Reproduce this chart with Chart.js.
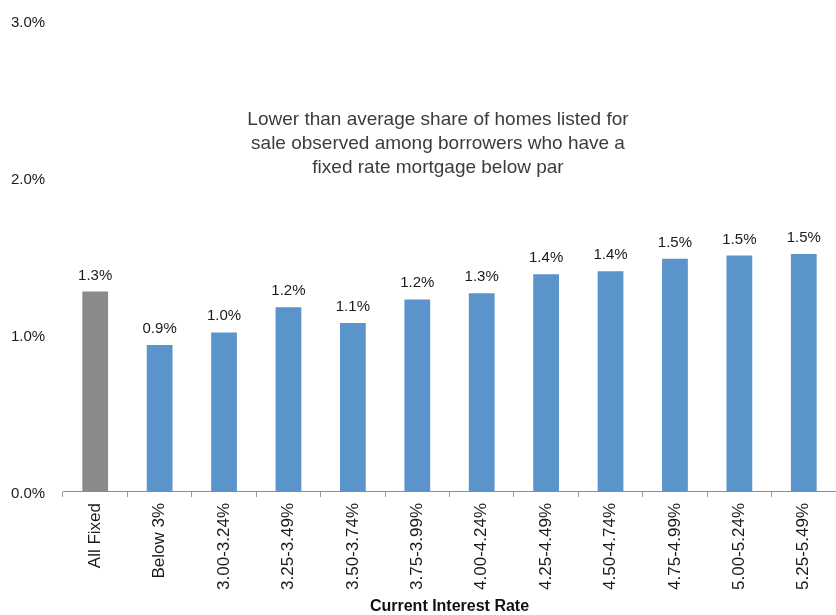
<!DOCTYPE html>
<html lang="en">
<head>
<meta charset="utf-8">
<title>Current Interest Rate - Share of Homes Listed</title>
<script src="https://cdn.jsdelivr.net/npm/chart.js@4.4.1/dist/chart.umd.min.js"></script>
<style>
    html, body { margin: 0; padding: 0; background: #ffffff; }
    .chart-wrap { position: relative; width: 836px; height: 615px; }
</style>
</head>
<body>
<div class="chart-wrap">
    <canvas id="listingChart"></canvas>
</div>
<script>
// ==========================================
// Data
// ==========================================
const rateBuckets = ['All Fixed', 'Below 3%', '3.00-3.24%', '3.25-3.49%', '3.50-3.74%', '3.75-3.99%',
    '4.00-4.24%', '4.25-4.49%', '4.50-4.74%', '4.75-4.99%', '5.00-5.24%', '5.25-5.49%'];
const listedShare = [1.27, 0.93, 1.01, 1.17, 1.07, 1.22, 1.26, 1.38, 1.40, 1.48, 1.50, 1.51];
const yTicks = [0, 1, 2, 3];
const noteLines = [
    'Lower than average share of homes listed for',
    'sale observed among borrowers who have a',
    'fixed rate mortgage below par'
];

const FONT = "'Liberation Sans', Arial, sans-serif";
const BLUE = '#5b93cb';
const GREY = '#8a8a8a';

document.addEventListener('DOMContentLoaded', () => {

    // ==========================================
    // 1. Value labels above each bar + note text
    // ==========================================
    const barLabels = {
        id: 'barLabels',
        afterDatasetsDraw(chart) {
            const ctx = chart.ctx;
            const meta = chart.getDatasetMeta(0);
            ctx.save();
            ctx.font = '15px ' + FONT;
            ctx.fillStyle = '#1a1a1a';
            ctx.textAlign = 'center';
            ctx.textBaseline = 'alphabetic';
            meta.data.forEach((bar, i) => {
                ctx.fillText(listedShare[i].toFixed(1) + '%', bar.x, bar.y - 12);
            });

            // centred note in the upper part of the plot
            ctx.font = '19px ' + FONT;
            ctx.fillStyle = '#3c3c3c';
            noteLines.forEach((line, i) => {
                ctx.fillText(line, 438, 125 + i * 24);
            });
            ctx.restore();
        }
    };

    // ==========================================
    // 2. Bar chart
    // ==========================================
    const ctx = document.getElementById('listingChart');
    new Chart(ctx, {
        type: 'bar',
        data: {
            labels: rateBuckets,
            datasets: [{
                data: listedShare,
                backgroundColor: rateBuckets.map((_, i) => i === 0 ? GREY : BLUE),
                borderWidth: 0,
                barPercentage: 1,
                categoryPercentage: 0.4
            }]
        },
        options: {
            responsive: true,
            maintainAspectRatio: false,
            animation: false,
            layout: {
                padding: { left: 11, right: 0, top: 20, bottom: 0 }
            },
            plugins: {
                legend: { display: false },
                tooltip: { enabled: false }
            },
            scales: {
                x: {
                    grid: {
                        offset: true,
                        drawOnChartArea: false,
                        drawTicks: true,
                        tickLength: 6,
                        color: '#9a9a9a'
                    },
                    border: { display: true, color: '#8c8c8c', width: 1 },
                    ticks: {
                        minRotation: 90,
                        maxRotation: 90,
                        autoSkip: false,
                        padding: 6,
                        color: '#1a1a1a',
                        font: { family: FONT, size: 17 }
                    },
                    title: {
                        display: true,
                        text: 'Current Interest Rate',
                        color: '#111111',
                        font: { family: FONT, size: 16, weight: 'bold', lineHeight: 1 },
                        padding: { top: 0, bottom: 0 }
                    },
                    afterFit(scale) {
                        scale.height = 124;
                    }
                },
                y: {
                    min: 0,
                    max: 3,
                    grid: { display: false },
                    border: { display: false },
                    afterBuildTicks(scale) {
                        scale.ticks = yTicks.map(v => ({ value: v }));
                    },
                    ticks: {
                        crossAlign: 'far',
                        labelOffset: 3,
                        color: '#1a1a1a',
                        font: { family: FONT, size: 15 },
                        callback: (value) => Number(value).toFixed(1) + '%'
                    },
                    afterFit(scale) {
                        scale.width = 52;
                    }
                }
            }
        },
        plugins: [barLabels]
    });
});
</script>
</body>
</html>
